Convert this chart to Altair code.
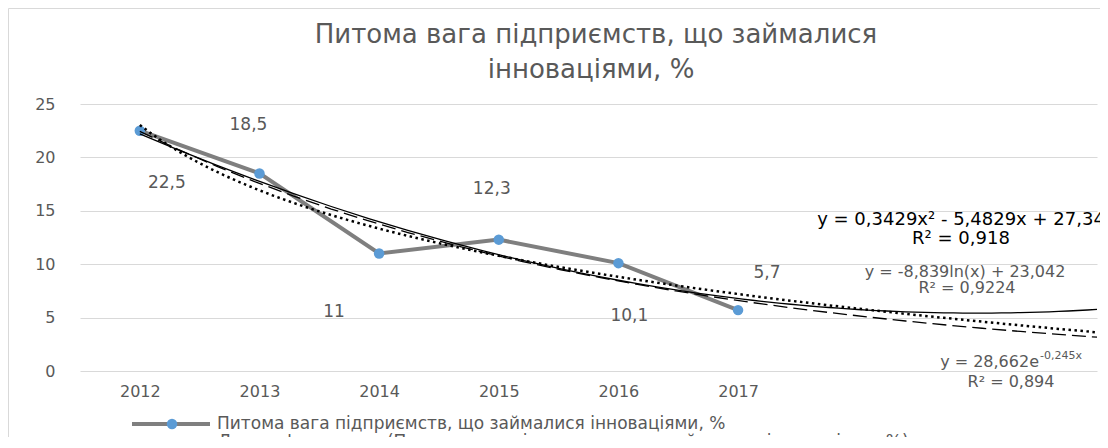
import altair as alt
import pandas as pd

# ---------------- data ----------------
YEARS = ["2012", "2013", "2014", "2015", "2016", "2017"]
IDX = [1, 2, 3, 4, 5, 6]
VALUES = [22.5, 18.5, 11.0, 12.3, 10.1, 5.7]
LABELS = ["22,5", "18,5", "11", "12,3", "10,1", "5,7"]
FORECAST_END = 9
Y_TICKS = [0, 5, 10, 15, 20, 25]

TITLE_LINES = ["Питома вага підприємств, що займалися", "інноваціями, %"]
SERIES_NAME = "Питома вага підприємств, що займалися інноваціями, %"
LOG_LEGEND = "Логарифмическая (Питома вага підприємств, що займалися інноваціями, %)"
QUAD_EQ = ["y = 0,3429x² - 5,4829x + 27,34", "R² = 0,918"]
LOG_EQ = ["y = -8,839ln(x) + 23,042", "R² = 0,9224"]
EXP_EQ_MAIN = "y = 28,662e"
EXP_EQ_SUP = "-0,245x"
EXP_R2 = "R² = 0,894"

# ---------------- style ----------------
LABEL_DX = [27, -11, -45, -7, 11, 29]
LABEL_DY = [52, -48, 58, -51, 53, -37]

W, H = 1017, 267
FONT = "DejaVu Sans"
GRAY = "#595959"
LINE_GRAY = "#7F7F7F"
BLUE = "#5B9BD5"
GRID = "#D9D9D9"

df = pd.DataFrame({"x": IDX, "y": VALUES, "label": LABELS, "year": YEARS})

xscale = alt.Scale(domain=[0.5, 9.0], nice=False, zero=False)
yscale = alt.Scale(domain=[0, 25], nice=False, zero=False)

label_expr = "[" + ",".join(f"'{y}'" for y in YEARS) + "][datum.value - 1]"

xaxis = alt.Axis(values=IDX, labelExpr=label_expr, grid=False, domain=False,
                 ticks=False, labelPadding=12, labelFont=FONT, labelFontSize=16,
                 labelColor=GRAY, title=None)
yaxis = alt.Axis(values=Y_TICKS, grid=True, gridColor=GRID, gridWidth=1,
                 domain=False, ticks=False, labelPadding=25, labelFont=FONT,
                 labelFontSize=16, labelColor=GRAY, title=None)

X = alt.X("x:Q", scale=xscale, axis=xaxis)
Y = alt.Y("y:Q", scale=yscale, axis=yaxis)

base = alt.Chart(df)

series_line = base.mark_line(color=LINE_GRAY, strokeWidth=4).encode(x=X, y=Y)
series_pts = base.mark_circle(color=BLUE, size=110, opacity=1).encode(x=X, y=Y)

quad = (base.transform_regression("x", "y", method="quad", extent=[1, FORECAST_END])
        .mark_line(color="black", strokeWidth=1.3)
        .encode(x=X, y=Y))
logl = (base.transform_regression("x", "y", method="log", extent=[1, FORECAST_END])
        .mark_line(color="black", strokeWidth=2.5, strokeDash=[2.5, 3.5])
        .encode(x=X, y=Y))
expl = (base.transform_calculate(ly="log(datum.y)")
        .transform_regression("x", "ly", method="poly", order=1, extent=[1, FORECAST_END])
        .transform_calculate(y="exp(datum.ly)")
        .mark_line(color="black", strokeWidth=1.3, strokeDash=[14, 6])
        .encode(x=X, y=Y))

label_layers = []
for i in range(len(IDX)):
    label_layers.append(
        base.transform_filter(alt.datum.x == IDX[i])
        .mark_text(font=FONT, fontSize=17, color=GRAY, dx=LABEL_DX[i], dy=LABEL_DY[i])
        .encode(x=X, y=Y, text="label:N")
    )

one = alt.Data(values=[{"a": 1}])


def txt(text, x, y, size, color=GRAY, align="center", baseline="middle"):
    return alt.Chart(one).mark_text(
        text=text, font=FONT, fontSize=size, color=color, align=align, baseline=baseline
    ).encode(x=alt.value(x), y=alt.value(y))


# page -> plot-area coords: (px - 80, py - 104)
annotations = [
    txt(TITLE_LINES[0], 516, -69, 26),
    txt(TITLE_LINES[1], 511, -34, 26),
    txt(QUAD_EQ[0], 881, 116, 18, color="black"),
    txt(QUAD_EQ[1], 881, 135, 18, color="black"),
    txt(LOG_EQ[0], 885, 168, 16),
    txt(LOG_EQ[1], 887, 184, 16),
    txt(EXP_EQ_MAIN, 959, 258, 16, align="right"),
    txt(EXP_EQ_SUP, 960, 252, 11, align="left"),
    txt(EXP_R2, 931, 278, 16),
    txt(SERIES_NAME, 137, 320, 17, align="left"),
    txt(LOG_LEGEND, 138, 338, 17, align="left"),
]

legend_line = alt.Chart(one).mark_rule(color=LINE_GRAY, strokeWidth=4).encode(
    x=alt.value(52), x2=alt.value(130), y=alt.value(320))
legend_pt = alt.Chart(one).mark_circle(color=BLUE, size=110, opacity=1).encode(
    x=alt.value(92), y=alt.value(320))

border_left = alt.Chart(one).mark_rule(color=GRID, strokeWidth=1).encode(
    x=alt.value(-71.5), y=alt.value(-95.5), y2=alt.value(H + 100))
border_top = alt.Chart(one).mark_rule(color=GRID, strokeWidth=1).encode(
    x=alt.value(-71.5), x2=alt.value(W + 30), y=alt.value(-95.5))

chart = alt.layer(
    series_line, series_pts, quad, logl, expl,
    *label_layers, *annotations, legend_line, legend_pt,
    border_left, border_top,
).properties(
    width=W, height=H,
    padding={"left": 72, "top": 96, "right": 3, "bottom": 66},
    autosize=alt.AutoSizeParams(type="none"),
    background="white",
).configure_view(stroke=None)

chart.save("out.html", embed_options={"renderer": "svg", "actions": False})
